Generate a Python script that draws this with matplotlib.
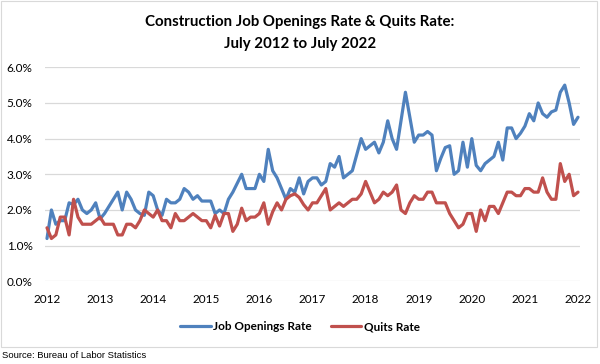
import matplotlib
matplotlib.use("Agg")
import matplotlib.pyplot as plt
from matplotlib.patches import Rectangle
from matplotlib.ticker import FuncFormatter, FixedLocator

years = ["2012", "2013", "2014", "2015", "2016", "2017", "2018", "2019", "2020", "2021", "2022"]

job_openings = [
    1.2, 2.0, 1.6, 1.7, 1.7, 2.2, 2.15, 2.3, 2.0, 1.9, 2.0, 2.2,
    1.75, 1.9, 2.1, 2.3, 2.5, 2.0, 2.5, 2.3, 2.0, 1.9, 1.85, 2.5,
    2.4, 2.0, 1.85, 2.3, 2.2, 2.2, 2.3, 2.6, 2.5, 2.3, 2.4, 2.25,
    2.25, 2.25, 1.9, 2.0, 1.9, 2.3, 2.5, 2.75, 3.0, 2.6, 2.6, 2.6,
    3.0, 2.8, 3.7, 3.1, 2.9, 2.6, 2.3, 2.6, 2.5, 2.9, 2.45, 2.8,
    2.9, 2.9, 2.7, 2.8, 3.3, 3.2, 3.5, 2.9, 3.0, 3.1, 3.55, 4.0,
    3.7, 3.8, 3.9, 3.6, 3.9, 4.5, 4.0, 3.7, 4.5, 5.3, 4.6, 3.9,
    4.1, 4.1, 4.2, 4.1, 3.1, 3.45, 3.75, 3.8, 3.0, 3.1, 3.9, 3.2,
    4.0, 3.25, 3.1, 3.3, 3.4, 3.5, 3.9, 3.4, 4.3, 4.3, 4.0, 4.15,
    4.35, 4.7, 4.5, 5.0, 4.7, 4.6, 4.75, 4.8, 5.3, 5.5, 5.0, 4.4,
    4.6,
]

quits = [
    1.5, 1.2, 1.3, 1.8, 1.8, 1.3, 2.3, 1.8, 1.6, 1.6, 1.6, 1.7,
    1.8, 1.6, 1.6, 1.6, 1.3, 1.3, 1.6, 1.6, 1.5, 1.7, 2.0, 1.9,
    1.8, 2.0, 1.7, 1.7, 1.5, 1.9, 1.7, 1.7, 1.8, 1.9, 1.8, 1.7,
    1.7, 1.5, 1.85, 1.55, 1.9, 1.9, 1.4, 1.6, 2.05, 1.7, 1.8, 1.8,
    1.9, 2.2, 1.6, 1.95, 2.2, 2.0, 2.3, 2.4, 2.45, 2.35, 2.15, 2.0,
    2.2, 2.2, 2.4, 2.6, 2.0, 2.1, 2.2, 2.1, 2.2, 2.3, 2.3, 2.45,
    2.8, 2.5, 2.2, 2.3, 2.5, 2.4, 2.5, 2.7, 2.0, 1.9, 2.2, 2.4,
    2.3, 2.3, 2.5, 2.5, 2.2, 2.2, 2.2, 1.9, 1.7, 1.5, 1.6, 1.9,
    1.9, 1.4, 2.0, 1.7, 2.1, 2.1, 1.9, 2.2, 2.5, 2.5, 2.4, 2.4,
    2.6, 2.6, 2.5, 2.5, 2.9, 2.5, 2.3, 2.3, 3.3, 2.8, 3.0, 2.4,
    2.5,
]

BLUE = "#4F81BD"
RED = "#C0504D"
GRID = "#D9D9D9"
FONT = ["Lato", "DejaVu Sans"]
plt.rcParams["font.family"] = FONT

fig = plt.figure(figsize=(6.0, 3.64), dpi=100)
W, H = 600, 364

# outer chart border
fig.patches.append(Rectangle((0.5 / W, 1 - 347 / H), 596 / W, 346.5 / H,
                             transform=fig.transFigure, fill=False,
                             edgecolor="#D9D9D9", linewidth=0.8))

ax = fig.add_axes([45 / W, 1 - 281.3 / H, 535 / W, 214 / H])
x = list(range(len(job_openings)))
ax.plot(x, job_openings, color=BLUE, lw=2.3, label="Job Openings Rate",
        solid_joinstyle="round", solid_capstyle="round")
ax.plot(x, quits, color=RED, lw=2.3, label="Quits Rate",
        solid_joinstyle="round", solid_capstyle="round")

ax.set_xlim(-0.45, 120.45)
ax.set_ylim(0, 6)
ax.yaxis.set_major_locator(FixedLocator([0, 1, 2, 3, 4, 5, 6]))
ax.yaxis.set_major_formatter(FuncFormatter(lambda v, p: f"{v:.1f}%"))
ax.set_xticks([12 * k for k in range(len(years))])
ax.set_xticklabels(years)
ax.tick_params(axis="both", length=0, labelsize=8.5, colors="black")
ax.tick_params(axis="y", pad=9)
ax.tick_params(axis="x", pad=9)
ax.grid(axis="y", color=GRID, lw=0.9)
ax.set_axisbelow(True)
for s in ax.spines.values():
    s.set_visible(False)

fig.text(0.5, 1 - 22 / H, "Construction Job Openings Rate & Quits Rate:",
         ha="center", va="center", fontsize=10.8, fontweight="bold")
fig.text(0.5, 1 - 44 / H, "July 2012 to July 2022",
         ha="center", va="center", fontsize=10.8, fontweight="bold")

leg = fig.legend(loc="center", bbox_to_anchor=(0.5, 1 - 327 / H), ncol=2,
                 frameon=False, prop={"family": FONT, "weight": "bold", "size": 8.5},
                 handlelength=2.6, handletextpad=0.2, columnspacing=1.6)

fig.text(2 / W, 1 - 356 / H, "Source: Bureau of Labor Statistics",
         ha="left", va="center", fontsize=6.8, family=["Liberation Sans", "DejaVu Sans"])

fig.savefig("out.png", dpi=100)
